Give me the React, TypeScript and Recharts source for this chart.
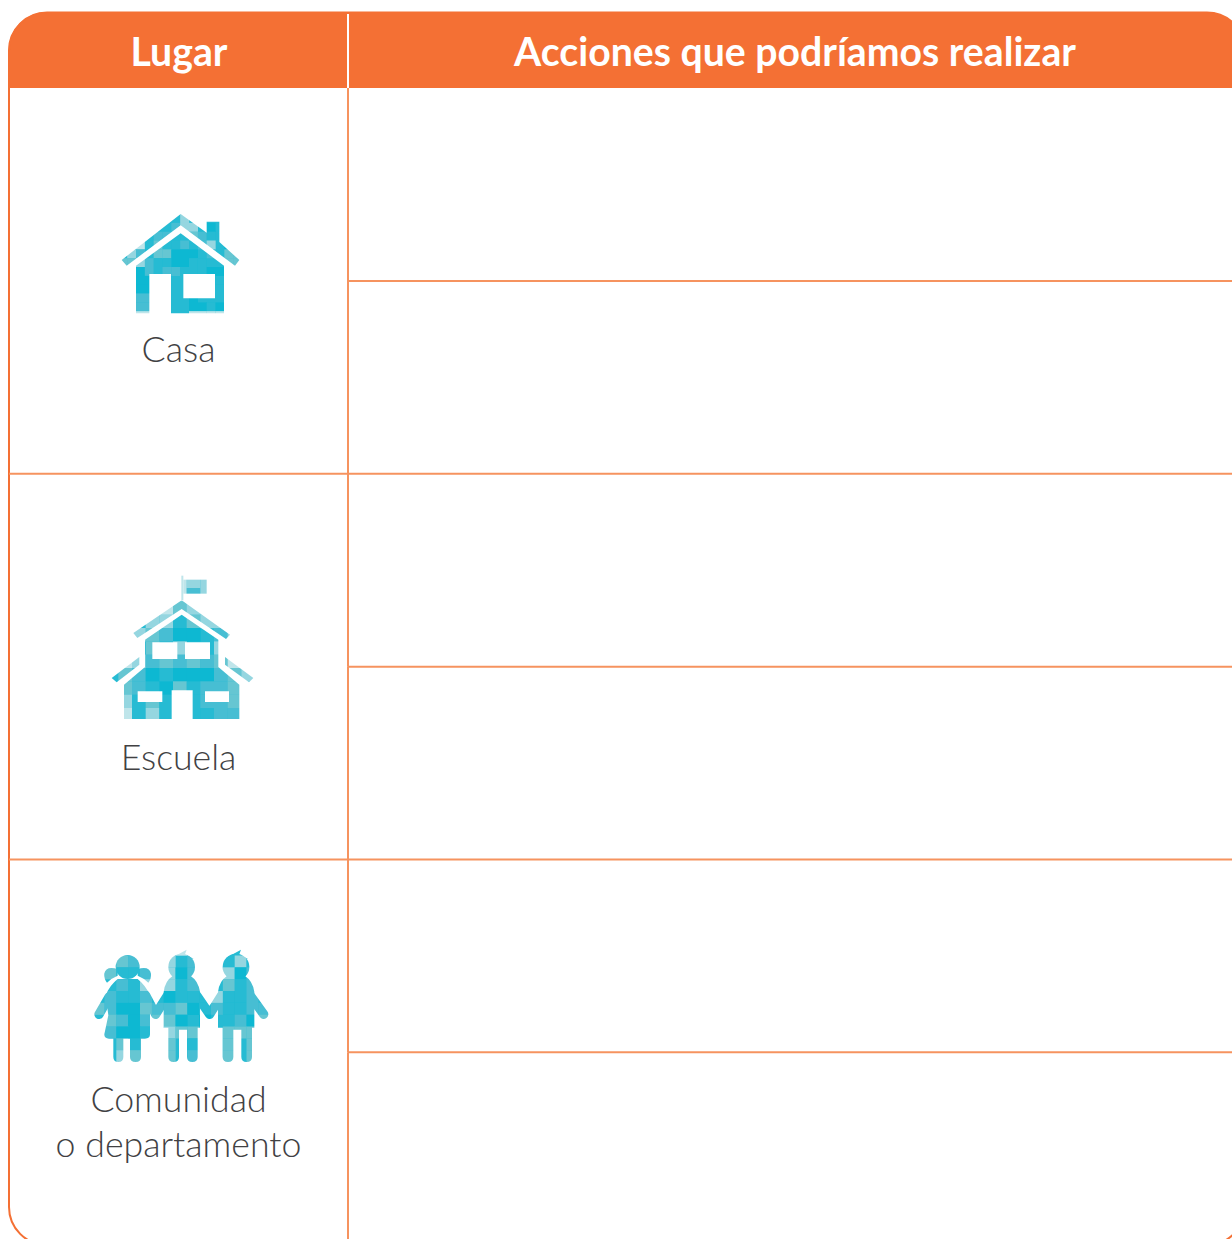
import { BarChart, Bar, XAxis, YAxis, Customized } from "recharts";

// table content
const headers = ["Lugar", "Acciones que podríamos realizar"];
const places = [["Casa"], ["Escuela"], ["Comunidad", "o departamento"]];
const rowIds = ["casa-1", "casa-2", "escuela-1", "escuela-2", "comunidad-1", "comunidad-2"];
const lugarWidths = [339, 339, 339, 339, 339, 339];
const accionesWidths = [897, 897, 897, 897, 897, 897];
const headerCentres = [170, 786];

const rows = rowIds.map((row, i) => ({
  row,
  lugar: lugarWidths[i],
  acciones: accionesWidths[i],
}));

const ORANGE = "#f47034";
const LINE = "#f6935f";
const TEXT = "#414143";
const shades = ["#0db8d2", "#25bbd3", "#47bed3", "#66c6d2", "#95d6e0", "#bfe5ea"];

// mosaic shades for the icons, one char per block, "." keeps the base colour
const houseBlocks = [
  ".......4......",
  "......244.0...",
  "....2217321 4.",
  "..5131.2124.04",
  ".42.33000 2.33",
  "3342110011..334",
  "..0212211100..",
  "..00......11..",
  "..00....0...0.",
  "..22....0...0.",
  "..22....0010..",
  "..55....5555..",
];
const schoolBlocks = [
  "....544...",
  "....524...",
  "...5344...",
  "..441344..",
  ".43200 24.",
  "..3.4..4..",
  "5423232354",
  "3201000234",
  "3210312234",
  "4131..2234",
  "5141..1223",
  "5223..5444",
];
const kidsBlocks = [
  ".......55...1..",
  "..32..4.23..411",
  ".3112.402..402.",
  "..214.412..312.",
  ".2112.011.4112.",
  "3200322301211223",
  ".3202330.0..2033",
  ".2001.433..333.",
  "..312.3.1..3.3.",
  "..433.3.2..3.3.",
];

function Mosaic({ id, blocks, x0, y0, stepX, stepY, width, height, children }: any) {
  return (
    <g>
      <defs>
        <mask id={id} maskUnits="userSpaceOnUse" x={0} y={0} width={width} height={height}>
          {children}
        </mask>
        <filter id={`${id}-soft`} x="-5%" y="-5%" width="110%" height="110%">
          <feGaussianBlur stdDeviation={2} />
        </filter>
      </defs>
      <g filter={`url(#${id}-soft)`}>
        <g mask={`url(#${id})`}>
          <rect x={0} y={0} width={width} height={height} fill={shades[1]} />
          {blocks.map((line: string, r: number) =>
            line.split("").map((c, k) =>
              shades[Number(c)] && c !== " " ? (
                <rect
                  key={`${r}-${k}`}
                  x={x0 + k * stepX}
                  y={y0 + r * stepY}
                  width={stepX + 0.5}
                  height={stepY + 0.5}
                  fill={shades[Number(c)]}
                />
              ) : null
            )
          )}
        </g>
      </g>
    </g>
  );
}

function House() {
  return (
    <Mosaic id="house" blocks={houseBlocks} x0={55} y0={42} stepX={26.5} stepY={26.5} width={480} height={390}>
      <path fill="white" d="M242 42 L320 98 L320 65 L358 65 L358 126 L418 180 L405 197 L242 76 L80 197 L65 180 Z" />
      <path
        fill="white"
        fillRule="evenodd"
        d="M242 100 L372 197 L372 340 L213 340 L213 222 L148 222 L148 340 L108 340 L108 197 Z M250 222 L345 222 L345 295 L250 295 Z"
      />
    </Mosaic>
  );
}

function School() {
  return (
    <Mosaic id="school" blocks={schoolBlocks} x0={55} y0={15} stepX={41} stepY={40} width={495} height={480}>
      <rect fill="white" x={244} y={18} width={6} height={74} />
      <rect fill="white" x={250} y={30} width={70} height={42} />
      <path fill="white" d="M245 92 L390 195 L378 208 L245 118 L112 205 L100 190 Z" />
      <path
        fill="white"
        fillRule="evenodd"
        d="M245 135 L355 210 L355 292 L418 345 L418 448 L278 448 L278 362 L215 362 L215 448 L72 448 L72 345 L135 292 L135 210 Z M157 218 L232 218 L232 268 L157 268 Z M255 218 L330 218 L330 268 L255 268 Z M113 365 L187 365 L187 397 L113 397 Z M315 365 L387 365 L387 397 L315 397 Z"
      />
      <path fill="white" d="M35 325 L118 262 L118 285 L50 338 Z" />
      <path fill="white" d="M375 262 L460 325 L447 338 L375 285 Z" />
    </Mosaic>
  );
}

function Boy({ dx }: { dx: number }) {
  return (
    <g transform={`translate(${dx} 0)`}>
      <circle cx={290} cy={80} r={40} fill="white" />
      <path fill="white" d="M265 50 L305 28 L300 42 L326 56 Z" />
      <path
        fill="white"
        d="M262 108 L318 108 Q340 122 345 155 L345 262 L338 262 L338 350 Q338 365 322 365 Q306 365 306 350 L306 268 L282 268 L282 350 Q282 365 266 365 Q250 365 250 350 L250 262 L236 262 L236 155 Q240 122 262 108 Z"
      />
    </g>
  );
}

function Kids() {
  const arm = { stroke: "white", strokeWidth: 28, strokeLinecap: "round" as const, strokeLinejoin: "round" as const, fill: "none" };
  return (
    <Mosaic id="kids" blocks={kidsBlocks} x0={23} y0={10} stepX={35.5} stepY={35.5} width={585} height={390}>
      <circle cx={128} cy={80} r={36} fill="white" />
      <path fill="white" d="M98 86 Q62 76 58 100 Q57 116 66 127 Q82 112 98 106 Z" />
      <path fill="white" d="M158 86 Q194 76 198 100 Q199 116 190 127 Q174 112 158 106 Z" />
      <path
        fill="white"
        d="M98 116 L158 116 Q182 135 195 165 L195 282 Q195 295 180 295 L168 295 L168 350 Q168 365 152 365 Q135 365 135 350 L135 295 L115 295 L115 350 Q115 365 100 365 Q85 365 85 350 L85 295 L72 295 Q58 295 58 282 L70 225 L62 165 Q74 135 98 116 Z"
      />
      <path {...arm} d="M72 170 L42 222" />
      <path {...arm} d="M182 165 L212 222 L248 165" />
      <path {...arm} d="M335 165 L374 222 L410 165" />
      <path {...arm} d="M495 165 L536 222" />
      <Boy dx={0} />
      <Boy dx={163} />
    </Mosaic>
  );
}

const icons = [
  { Icon: House, dx: 91, dy: 112, baselines: [274] },
  { Icon: School, dx: 91, dy: 96, baselines: [296] },
  { Icon: Kids, dx: 76, dy: 81, baselines: [253, 298] },
];

function LugarCell({ x, y, width, height, index }: any) {
  const group = Math.floor(index / 2);
  const art = icons[group];
  return (
    <g>
      <line x1={x + width} y1={y} x2={x + width} y2={y + height} stroke={LINE} strokeWidth={2} />
      {index % 2 === 1 && <line x1={x} y1={y + height} x2={x + width} y2={y + height} stroke={LINE} strokeWidth={2} />}
      {index % 2 === 0 && (
        <g>
          <g transform={`translate(${x + art.dx} ${y + art.dy}) scale(${1 / 3})`}>
            <art.Icon />
          </g>
          {places[group].map((label, i) => (
            <text
              key={label}
              x={x + width / 2}
              y={y + art.baselines[i]}
              textAnchor="middle"
              fontFamily="Lato"
              fontWeight={300}
              fontSize={35.7}
              fill={TEXT}
            >
              {label}
            </text>
          ))}
        </g>
      )}
    </g>
  );
}

function AccionesCell({ x, y, width, height }: any) {
  return <line x1={x} y1={y + height} x2={x + width} y2={y + height} stroke={LINE} strokeWidth={2} />;
}

function HeaderBand() {
  return (
    <g>
      <path d="M8.5 88 L8.5 50 A38 38 0 0 1 46.5 12 L1207 12 A38 38 0 0 1 1245 50 L1245 88 Z" fill={ORANGE} />
      <line x1={348} y1={14} x2={348} y2={88} stroke="#fff" strokeWidth={2} />
      <rect x={9} y={12.5} width={1236} height={1232.5} rx={38} ry={38} fill="none" stroke={ORANGE} strokeWidth={2} />
      {headers.map((label, i) => (
        <text
          key={label}
          x={9 + headerCentres[i]}
          y={66}
          textAnchor="middle"
          fontFamily="Lato"
          fontWeight={700}
          fontSize={39.2}
          fill="#fff"
        >
          {label}
        </text>
      ))}
    </g>
  );
}

export default function App() {
  return (
    <div style={{ position: "absolute", left: 0, top: 0, width: 1232, height: 1239, background: "#fff" }}>
      <BarChart
        width={1232}
        height={1239}
        data={rows}
        layout="vertical"
        barCategoryGap={0}
        margin={{ top: 88, left: 9, right: -13, bottom: -6 }}
      >
        <XAxis type="number" domain={[0, 1236]} hide />
        <YAxis type="category" dataKey="row" hide />
        <Customized component={HeaderBand} />
        <Bar dataKey="lugar" stackId="t" isAnimationActive={false} shape={<LugarCell />} />
        <Bar dataKey="acciones" stackId="t" isAnimationActive={false} shape={<AccionesCell />} />
      </BarChart>
    </div>
  );
}
